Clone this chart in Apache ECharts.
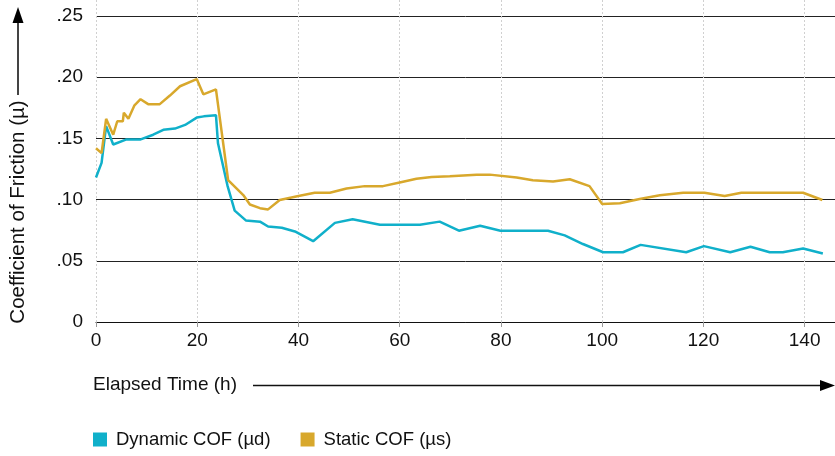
<!DOCTYPE html>
<html>
<head>
<meta charset="utf-8">
<script src="https://cdn.jsdelivr.net/npm/echarts@6/dist/echarts.min.js"></script>
<style>
  html, body { margin: 0; padding: 0; background: #fff; }
  #chart1 { width: 835px; height: 456px; }
</style>
</head>
<body>
<div id="chart1"></div>
<script>
// elapsed time (h) and friction values
var dynTime = [0, 1.1, 2, 3.4, 5.9, 8.7, 11.3, 13.3, 15.6, 17.6, 19.9, 21.3, 23.7, 24.1, 26, 27.4, 29.6, 32.4, 34, 36.7, 39.3, 42.9, 47.2, 50.7, 56.1, 64, 67.9, 71.7, 75.9, 79.9, 89.3, 92.6, 96.2, 100.2, 104.1, 107.6, 116.6, 120.1, 125.3, 129.3, 133.1, 135.7, 139.7, 143.6];
var dynCof = [0.118, 0.130, 0.160, 0.145, 0.149, 0.149, 0.153, 0.157, 0.158, 0.161, 0.167, 0.168, 0.169, 0.146, 0.111, 0.091, 0.083, 0.082, 0.078, 0.077, 0.074, 0.066, 0.081, 0.084, 0.0795, 0.0795, 0.082, 0.0746, 0.0787, 0.0746, 0.0746, 0.0708, 0.0637, 0.057, 0.057, 0.063, 0.057, 0.062, 0.057, 0.0615, 0.057, 0.057, 0.060, 0.056];

var statTime = [0, 1.1, 2, 3.4, 4.2, 5.3, 5.5, 6.4, 7.6, 8.8, 10.3, 12.6, 14.6, 16.6, 19.9, 21.2, 23.7, 26.1, 29.1, 30.4, 32.4, 34, 36.3, 40, 43.2, 46.2, 49.5, 53.1, 56.7, 60, 63.3, 66.3, 69.9, 75.2, 77.8, 83.1, 86.3, 90.3, 93.6, 97.5, 100, 103.5, 107.4, 111.4, 116, 120.2, 124.2, 127.5, 139.7, 143.5];
var statCof = [0.142, 0.138, 0.166, 0.153, 0.164, 0.164, 0.171, 0.166, 0.177, 0.182, 0.178, 0.178, 0.185, 0.1926, 0.1985, 0.186, 0.190, 0.116, 0.1037, 0.096, 0.093, 0.092, 0.0997, 0.103, 0.1056, 0.1056, 0.109, 0.111, 0.111, 0.114, 0.117, 0.1185, 0.119, 0.1204, 0.1204, 0.118, 0.1158, 0.1147, 0.1166, 0.111, 0.0964, 0.097, 0.1005, 0.1035, 0.1056, 0.1056, 0.103, 0.1056, 0.1056, 0.0997];

var seriesNames = ['Dynamic COF (µd)', 'Static COF (µs)'];
var xAxisName = 'Elapsed Time (h)';
var yAxisName = 'Coefficient of Friction (µ)';

function pairs(xs, ys) {
    var out = [];
    for (var i = 0; i < xs.length; i++) {
        out.push([xs[i], ys[i]]);
    }
    return out;
}

var font = 'Liberation Sans, Arial, sans-serif';
var mychart1 = echarts.init(document.getElementById('chart1'));

var o = {
    animation: false,
    color: ['#10b0ca', '#d8a82c'],
    textStyle: { fontFamily: font },
    grid: [
        { left: 96, right: 0, top: 16, bottom: 134 },
        // only there so the dotted verticals run up to the top edge
        { left: 96, right: 0, top: 0, bottom: 134 }
    ],
    legend: {
        left: 93,
        top: 430,
        padding: 0,
        itemWidth: 14,
        itemHeight: 14,
        itemGap: 30,
        icon: 'rect',
        textStyle: { fontSize: 18.5, color: '#111', padding: [0, 0, 0, 4] },
        data: seriesNames
    },
    xAxis: [
        {
            type: 'value',
            min: 0,
            max: 146,
            interval: 20,
            axisLine: { show: true, lineStyle: { color: '#111', width: 1 } },
            axisTick: { show: true, length: 5, lineStyle: { color: '#999' } },
            axisLabel: { fontSize: 19, color: '#111', margin: 9, showMaxLabel: false },
            splitLine: { show: false }
        },
        {
            type: 'value',
            gridIndex: 1,
            min: 0,
            max: 146,
            interval: 20,
            axisLine: { show: false },
            axisTick: { show: false },
            axisLabel: { show: false },
            splitLine: { show: true, lineStyle: { color: '#d0d0d0', type: [2, 2], width: 1 } }
        }
    ],
    yAxis: [
        {
            type: 'value',
            min: 0,
            max: 0.25,
            interval: 0.05,
            axisLine: { show: false },
            axisTick: { show: false },
            axisLabel: {
                fontSize: 19,
                color: '#111',
                margin: 13,
                formatter: function (v) {
                    if (v === 0) return '0';
                    return v.toFixed(2).replace(/^0/, '');
                }
            },
            splitLine: { show: true, lineStyle: { color: '#222', width: 1 } }
        },
        {
            type: 'value',
            gridIndex: 1,
            min: 0,
            max: 1,
            show: false
        }
    ],
    graphic: [
        {
            type: 'text',
            x: 18,
            y: 212,
            rotation: Math.PI / 2,
            style: { text: yAxisName, font: '20.5px ' + font, fill: '#111', textAlign: 'center', textVerticalAlign: 'middle' }
        },
        {
            type: 'line',
            shape: { x1: 18, y1: 95, x2: 18, y2: 20 },
            style: { stroke: '#444', lineWidth: 2 }
        },
        {
            type: 'polygon',
            shape: { points: [[18, 7], [12.5, 23], [23.5, 23]] },
            style: { fill: '#000' }
        },
        {
            type: 'text',
            x: 93,
            y: 385,
            style: { text: xAxisName, font: '19px ' + font, fill: '#111', textAlign: 'left', textVerticalAlign: 'middle' }
        },
        {
            type: 'line',
            shape: { x1: 253, y1: 385.5, x2: 824, y2: 385.5 },
            style: { stroke: '#111', lineWidth: 1.5 }
        },
        {
            type: 'polygon',
            shape: { points: [[835, 385.5], [820, 380], [820, 391]] },
            style: { fill: '#000' }
        }
    ],
    series: [
        {
            name: seriesNames[0],
            type: 'line',
            showSymbol: false,
            symbol: 'none',
            lineStyle: { width: 2.5 },
            data: pairs(dynTime, dynCof)
        },
        {
            name: seriesNames[1],
            type: 'line',
            showSymbol: false,
            symbol: 'none',
            lineStyle: { width: 2.5 },
            data: pairs(statTime, statCof)
        }
    ]
};

mychart1.setOption(o);
</script>
</body>
</html>
